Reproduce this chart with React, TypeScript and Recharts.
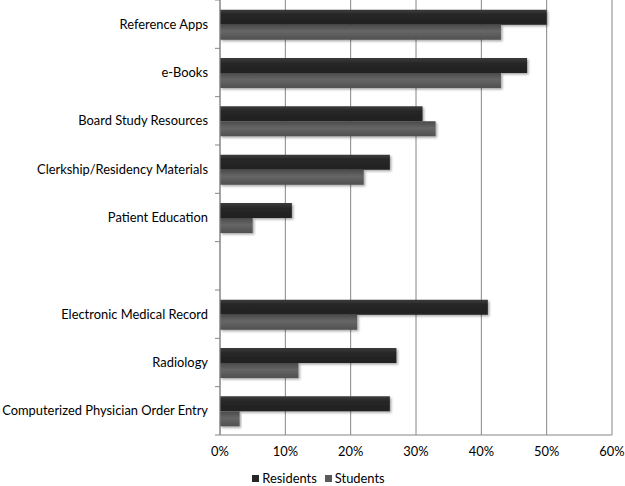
import React from "react";
import { BarChart, Bar, XAxis, YAxis, CartesianGrid, Legend } from "recharts";

const categories = [
  "Reference Apps",
  "e-Books",
  "Board Study Resources",
  "Clerkship/Residency Materials",
  "Patient Education",
  "",
  "Electronic Medical Record",
  "Radiology",
  "Computerized Physician Order Entry",
];
const residents: (number | null)[] = [50, 47, 31, 26, 11, null, 41, 27, 26];
const students: (number | null)[] = [43, 43, 33, 22, 5, null, 21, 12, 3];
const xTicks = [0, 10, 20, 30, 40, 50, 60];
const seriesNames = ["Residents", "Students"];
const seriesColors = ["#262626", "#5a5a5a"];

const data = categories.map((c, i) => ({
  name: c,
  Residents: residents[i],
  Students: students[i],
}));

const FONT = "Lato, 'Open Sans', sans-serif";
const FS = 12.9;
const AXIS = "#868686";

const YTick = (props: any) => {
  const { x, y, payload } = props;
  const band = 435 / categories.length;
  return (
    <g>
      <line x1={x + 8} x2={x + 13} y1={y - band / 2} y2={y - band / 2} stroke={AXIS} />
      {payload.index === categories.length - 1 && (
        <line x1={x + 8} x2={x + 13} y1={y + band / 2} y2={y + band / 2} stroke={AXIS} />
      )}
      <text x={x + 1} y={y} dy="0.35em" textAnchor="end" fill="#000" fontSize={FS} fontFamily={FONT}>
        {payload.value}
      </text>
    </g>
  );
};

const LegendContent = () => (
  <div
    style={{
      display: "flex",
      justifyContent: "center",
      alignItems: "center",
      fontFamily: FONT,
      fontSize: FS,
      lineHeight: "13px",
      color: "#000",
      paddingLeft: 12,
    }}
  >
    {seriesNames.map((n, i) => (
      <div key={n} style={{ display: "flex", alignItems: "center", marginRight: i === 0 ? 8 : 0 }}>
        <span style={{ width: 7, height: 7, background: seriesColors[i], display: "inline-block", marginRight: 3 }} />
        <span>{n}</span>
      </div>
    ))}
  </div>
);

export default function App() {
  return (
    <div style={{ position: "absolute", left: 0, top: 0, background: "#fff" }}>
      <BarChart
        width={625}
        height={486}
        data={data}
        layout="vertical"
        margin={{ top: 0, right: 13, left: 0, bottom: 0 }}
        barCategoryGap="20%"
        barGap={0}
      >
        <defs>
          <linearGradient id="gRes" x1="0" y1="0" x2="0" y2="1">
            <stop offset="0%" stopColor="#3c3c3c" />
            <stop offset="35%" stopColor="#262626" />
            <stop offset="100%" stopColor="#222222" />
          </linearGradient>
          <linearGradient id="gStu" x1="0" y1="0" x2="0" y2="1">
            <stop offset="0%" stopColor="#4a4a4a" />
            <stop offset="45%" stopColor="#666666" />
            <stop offset="100%" stopColor="#505050" />
          </linearGradient>
          <filter id="shadow" x="-5%" y="-20%" width="115%" height="160%">
            <feDropShadow dx="1.5" dy="1.5" stdDeviation="1.2" floodColor="#000" floodOpacity="0.35" />
          </filter>
        </defs>
        <CartesianGrid horizontal={false} stroke={AXIS} strokeDasharray="" />
        <XAxis
          type="number"
          domain={[0, 60]}
          ticks={xTicks}
          tickFormatter={(v: number) => `${v}%`}
          interval={0}
          axisLine={{ stroke: AXIS }}
          tickLine={false}
          tickSize={5}
          tickMargin={7}
          height={30}
          tick={{ fill: "#000", fontSize: FS, fontFamily: FONT }}
        />
        <YAxis
          type="category"
          dataKey="name"
          width={220}
          axisLine={{ stroke: AXIS }}
          tickLine={false}
          tickSize={5}
          tickMargin={8}
          interval={0}
          tick={<YTick />}
        />
        <Legend
          verticalAlign="bottom"
          height={21}
          content={<LegendContent />}
          wrapperStyle={{ left: 0, width: 625, top: 472 }}
        />
        <Bar dataKey="Residents" fill="url(#gRes)" filter="url(#shadow)" isAnimationActive={false} />
        <Bar dataKey="Students" fill="url(#gStu)" filter="url(#shadow)" isAnimationActive={false} />
      </BarChart>
    </div>
  );
}
